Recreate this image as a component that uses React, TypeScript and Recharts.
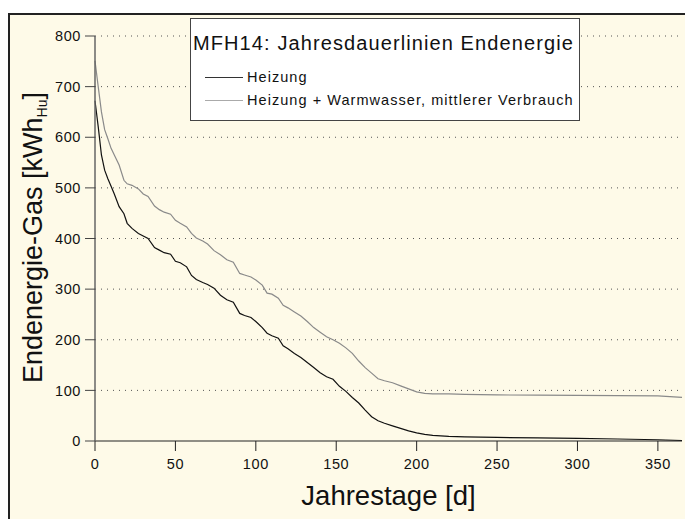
import { CartesianGrid, Legend, Line, LineChart, XAxis, YAxis } from "recharts"

// Jahrestage (sorted load duration, day index)
const days = [
  0, 2, 4, 6, 8, 10, 12, 15, 18, 20, 23, 27, 30, 33, 37, 40, 43, 47, 50, 53, 57, 60, 63, 67, 70, 74,
  78, 82, 86, 90, 93, 97, 100, 104, 107, 110, 114, 117, 120, 124, 128, 132, 136, 140, 144, 148, 152,
  156, 160, 164, 168, 172, 176, 180, 185, 190, 195, 200, 205, 210, 220, 230, 250, 275, 300, 325, 350,
  365,
]

const heizung = [
  672, 621, 565, 535, 518, 503, 488, 463, 449, 430, 420, 410, 405, 400, 382, 377, 372, 369, 355, 352,
  344, 327, 319, 313, 309, 302, 288, 279, 274, 252, 248, 244, 236, 224, 213, 208, 203, 188, 182, 173,
  165, 155, 145, 135, 127, 122, 108, 98, 86, 75, 61, 48, 40, 35, 30, 25, 20, 16, 13, 11, 9, 8, 7, 6,
  5, 4, 2.5, 1,
]

const heizungWW = [
  751, 700, 650, 615, 597, 578, 565, 545, 515, 508, 505, 498, 488, 483, 464, 457, 452, 448, 436, 430,
  423, 410, 401, 395, 389, 376, 368, 358, 353, 331, 328, 324, 318, 308, 292, 290, 282, 268, 263, 255,
  247, 236, 224, 215, 206, 200, 193, 184, 173, 158, 145, 134, 123, 119, 115, 109, 103, 97, 94, 93, 93,
  92, 91, 90.5, 90, 89.5, 89, 86,
]

const xTicks = [0, 50, 100, 150, 200, 250, 300, 350]
const yTicks = [0, 100, 200, 300, 400, 500, 600, 700, 800]
const minorTicks = Array.from({ length: 183 }, (_, i) => i * 2)

const data = days.map((d, i) => ({ day: d, heizung: heizung[i], ww: heizungWW[i] }))

const font = '"Liberation Sans", Arial, sans-serif'

function renderLegend(props: any) {
  const payload = props.payload || []
  return (
    <div
      style={{
        position: "relative",
        width: 390,
        height: 103,
        boxSizing: "border-box",
        border: "1px solid #444",
        background: "#fff",
        fontFamily: font,
        color: "#111",
      }}
    >
      <div
        style={{
          position: "absolute",
          left: 2,
          top: 14,
          fontSize: 20,
          lineHeight: "20px",
          letterSpacing: 1.1,
          whiteSpace: "nowrap",
        }}
      >
        MFH14: Jahresdauerlinien Endenergie
      </div>
      {payload.map((e: any, i: number) => (
        <div key={e.value}>
          <div
            style={{
              position: "absolute",
              left: 14,
              top: 58 + i * 23,
              width: 38,
              height: 0,
              borderTop: `1px solid ${i === 0 ? "#333" : "#aaa"}`,
            }}
          />
          <div
            style={{
              position: "absolute",
              left: 56,
              top: 51 + i * 23,
              fontSize: 14.5,
              lineHeight: "14px",
              letterSpacing: 1.05,
              whiteSpace: "nowrap",
            }}
          >
            {e.value}
          </div>
        </div>
      ))}
    </div>
  )
}

function YLabel(props: any) {
  const vb = props.viewBox || { x: 35, y: 36, width: 60, height: 405 }
  const x = vb.x + 7
  const y = vb.y + vb.height / 2 - 1
  return (
    <text
      x={x}
      y={y}
      transform={`rotate(-90 ${x} ${y})`}
      textAnchor="middle"
      fontSize={27}
      fill="#111"
      fontFamily={font}
    >
      Endenergie-Gas [kWh
      <tspan fontSize={14} dy={5}>
        Hu
      </tspan>
      <tspan dy={-5}>]</tspan>
    </text>
  )
}

function XLabel(props: any) {
  const vb = props.viewBox || { x: 95, y: 441, width: 587, height: 30 }
  return (
    <text x={vb.x + vb.width / 2} y={vb.y + 64} textAnchor="middle" fontSize={27.5} fill="#111" fontFamily={font}>
      Jahrestage [d]
    </text>
  )
}

const noLabel = () => <g />

export default function App() {
  return (
    <div
      style={{
        position: "absolute",
        left: 0,
        top: 0,
        width: 685,
        height: 519,
        background: "#fff",
        overflow: "hidden",
        fontFamily: font,
      }}
    >
      <div
        style={{
          position: "absolute",
          left: 8,
          top: 13,
          width: 700,
          height: 530,
          boxSizing: "border-box",
          borderLeft: "2px solid #222",
          borderTop: "2px solid #222",
          background: "#fefae8",
        }}
      />
      <div style={{ position: "absolute", left: 0, top: 0 }}>
        <LineChart width={685} height={519} data={data} margin={{ top: 36, right: 3, bottom: 48, left: 35 }}>
          <CartesianGrid
            horizontal
            vertical={false}
            stroke="#555"
            strokeDasharray="1 5"
            horizontalValues={[100, 200, 300, 400, 500, 600, 700, 800]}
          />
          <XAxis
            xAxisId="minor"
            type="number"
            dataKey="day"
            domain={[0, 365]}
            ticks={minorTicks}
            interval={0}
            tick={noLabel}
            tickSize={3}
            tickLine={{ stroke: "#666" }}
            axisLine={false}
            height={0}
            allowDataOverflow
          />
          <XAxis
            type="number"
            dataKey="day"
            domain={[0, 365]}
            ticks={xTicks}
            interval={0}
            tickSize={10}
            tickMargin={8}
            tick={{ fontSize: 14.5, fill: "#111", fontFamily: font, letterSpacing: 0.6 }}
            tickLine={{ stroke: "#222" }}
            axisLine={{ stroke: "#222" }}
            height={30}
            label={(p: any) => <XLabel {...p} />}
          />
          <YAxis
            type="number"
            domain={[0, 800]}
            ticks={yTicks}
            interval={0}
            width={60}
            tickSize={10}
            tickMargin={4}
            tick={{ fontSize: 14.5, fill: "#111", fontFamily: font, letterSpacing: 0.6 }}
            tickLine={{ stroke: "#444" }}
            axisLine={{ stroke: "#666", strokeWidth: 1.5 }}
            label={(p: any) => <YLabel {...p} />}
          />
          <Legend
            layout="vertical"
            align="center"
            verticalAlign="middle"
            content={renderLegend}
            wrapperStyle={{ left: 190, top: 18, width: 390, height: 103 }}
          />
          <Line
            name="Heizung"
            type="linear"
            dataKey="heizung"
            stroke="#111"
            strokeWidth={1.2}
            dot={false}
            isAnimationActive={false}
          />
          <Line
            name="Heizung + Warmwasser, mittlerer Verbrauch"
            type="linear"
            dataKey="ww"
            stroke="#8a8a8a"
            strokeWidth={1.2}
            dot={false}
            isAnimationActive={false}
          />
        </LineChart>
      </div>
    </div>
  )
}
